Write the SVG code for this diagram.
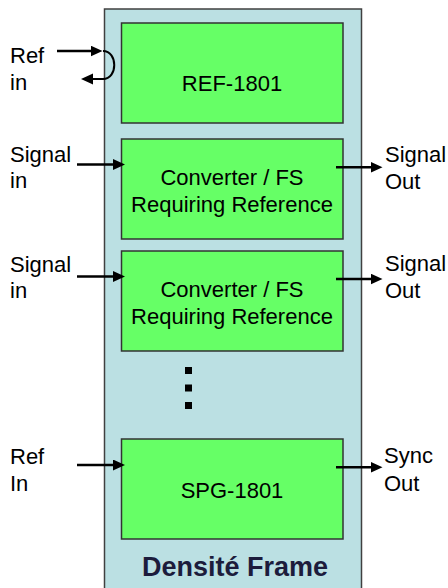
<svg xmlns="http://www.w3.org/2000/svg" width="448" height="588" viewBox="0 0 448 588">
<style>
.t{font-family:"Liberation Sans",Arial,sans-serif;font-size:22px;fill:#000}
.c{text-anchor:middle}
.box{fill:#66FF66;stroke:#333;stroke-width:1.5}
.conn{fill:none;stroke:#000;stroke-width:2.5}
.thin{fill:none;stroke:#000;stroke-width:2}
</style>
<defs>
<marker id="ah" markerUnits="userSpaceOnUse" markerWidth="13" markerHeight="12" refX="1" refY="5.5" orient="auto">
<path d="M0,0 L12,5.5 L0,11 z" fill="#000"/>
</marker>
</defs>
<g id="frame">
<rect x="104.5" y="9" width="257" height="600" fill="#BBE0E3" stroke="#404040" stroke-width="1.5"/>
<text x="235" y="575.5" font-family="'Liberation Sans',Arial,sans-serif" font-size="27" font-weight="bold" fill="#1c1c3c" text-anchor="middle">Densité Frame</text>
</g>
<g id="ref1801">
<rect class="box" x="121.5" y="23" width="221.5" height="100"/>
<text class="t c" x="232" y="90.5">REF-1801</text>
</g>
<g id="conv1">
<rect class="box" x="121.5" y="139" width="221.5" height="100"/>
<text class="t c" x="232" y="185">Converter / FS</text>
<text class="t c" x="232" y="211.5">Requiring Reference</text>
</g>
<g id="conv2">
<rect class="box" x="121.5" y="251" width="221.5" height="100"/>
<text class="t c" x="232" y="297">Converter / FS</text>
<text class="t c" x="232" y="323.5">Requiring Reference</text>
</g>
<g id="dots" fill="#000">
<rect x="185" y="367" width="7" height="7"/>
<rect x="185" y="384.5" width="7" height="7"/>
<rect x="185" y="402" width="7" height="7"/>
</g>
<g id="spg1801">
<rect class="box" x="121.5" y="439" width="221.5" height="100"/>
<text class="t c" x="232" y="498">SPG-1801</text>
</g>
<g id="labels">
<text class="t" x="10" y="63">Ref</text>
<text class="t" x="10" y="90">in</text>
<text class="t" x="10" y="162.3">Signal</text>
<text class="t" x="10" y="188.3">in</text>
<text class="t" x="10" y="271.7">Signal</text>
<text class="t" x="10" y="298.3">in</text>
<text class="t" x="10" y="464.3">Ref</text>
<text class="t" x="10" y="490.7">In</text>
<text class="t" x="385" y="161.7">Signal</text>
<text class="t" x="385" y="188.5">Out</text>
<text class="t" x="385" y="270.7">Signal</text>
<text class="t" x="385" y="297.5">Out</text>
<text class="t" x="384" y="463.3">Sync</text>
<text class="t" x="384" y="491">Out</text>
</g>
<g id="connectors">
<path class="conn" d="M57 51 L91.5 51" marker-end="url(#ah)"/>
<path class="thin" d="M103 51 C118 51 118 79 103 79 L92 79" marker-end="url(#ah)"/>
<path class="conn" d="M77 164.5 L114 164.5" marker-end="url(#ah)"/>
<path class="conn" d="M77 276.5 L114 276.5" marker-end="url(#ah)"/>
<path class="conn" d="M77 465 L114 465" marker-end="url(#ah)"/>
<path class="conn" d="M336 167.3 L371.5 167.3" marker-end="url(#ah)"/>
<path class="conn" d="M336 279 L371.5 279" marker-end="url(#ah)"/>
<path class="conn" d="M336 467.3 L371.5 467.3" marker-end="url(#ah)"/>
</g>
</svg>
